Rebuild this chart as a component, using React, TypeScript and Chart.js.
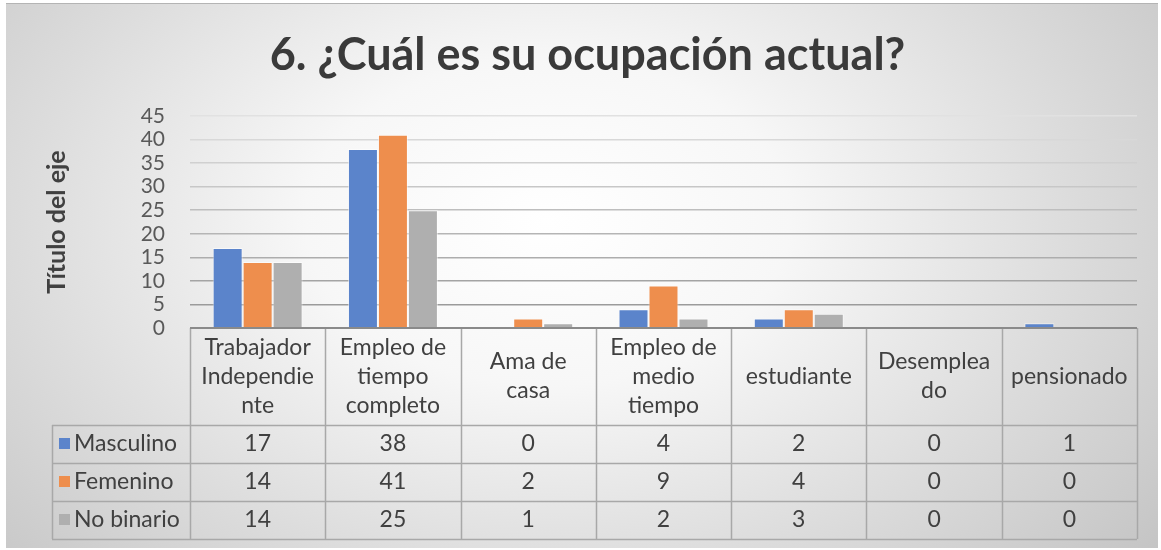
import React, { useEffect, useRef } from "react";
import { Chart, registerables } from "chart.js";

Chart.register(...registerables);

const categories: string[][] = [
  ["Trabajador", "Independie", "nte"],
  ["Empleo de", "tiempo", "completo"],
  ["Ama de", "casa"],
  ["Empleo de", "medio", "tiempo"],
  ["estudiante"],
  ["Desemplea", "do"],
  ["pensionado"],
];
const seriesNames = ["Masculino", "Femenino", "No binario"];
const masculino = [17, 38, 0, 4, 2, 0, 1];
const femenino = [14, 41, 2, 9, 4, 0, 0];
const noBinario = [14, 25, 1, 2, 3, 0, 0];
const seriesColors = ["#5B84CB", "#EE8E4D", "#AFAFAF"];
const titleText = "6. ¿Cuál es su ocupación actual?";
const axisTitle = "Título del eje";
const yMin = 0;
const yMax = 45;
const yStep = 5;

const FONT = "Lato, 'Open Sans', sans-serif";

const tablePlugin = {
  id: "dataTable",
  afterDraw(chart: any) {
    const { ctx, chartArea } = chart;
    const xs = chart.scales.x;
    const n = categories.length;
    const w = (chartArea.right - chartArea.left) / n;
    const top = chartArea.bottom;
    const headerH = 97;
    const rowH = 38;
    const legendLeft = 46;
    const bottom = top + headerH + rowH * 3;
    ctx.save();
    ctx.strokeStyle = "#a8a8a8";
    ctx.lineWidth = 1.5;
    ctx.beginPath();
    for (let k = 0; k <= n; k++) {
      const X = Math.round(chartArea.left + k * w) + 0.5;
      ctx.moveTo(X, top);
      ctx.lineTo(X, bottom);
    }
    for (let r = 0; r <= 3; r++) {
      const Y = Math.round(top + headerH + r * rowH) + 0.5;
      ctx.moveTo(legendLeft, Y);
      ctx.lineTo(chartArea.right, Y);
    }
    ctx.moveTo(legendLeft + 0.5, top + headerH);
    ctx.lineTo(legendLeft + 0.5, bottom);
    ctx.stroke();

    // axis line
    ctx.strokeStyle = "#8a8a8a";
    ctx.lineWidth = 2;
    ctx.beginPath();
    ctx.moveTo(chartArea.left, top);
    ctx.lineTo(chartArea.right, top);
    ctx.stroke();

    ctx.fillStyle = "#404040";
    ctx.font = `23px ${FONT}`;
    ctx.textAlign = "center";
    ctx.textBaseline = "middle";
    const lineH = 29;
    categories.forEach((lines, i) => {
      const cx = xs.getPixelForValue(i);
      const start = top + headerH / 2 - ((lines.length - 1) * lineH) / 2;
      lines.forEach((l, j) => ctx.fillText(l, cx, start + j * lineH));
    });

    chart.data.datasets.forEach((ds: any, r: number) => {
      const cy = top + headerH + r * rowH + rowH / 2;
      ctx.fillStyle = seriesColors[r];
      ctx.fillRect(legendLeft + 7, cy - 6, 11, 11);
      ctx.fillStyle = "#404040";
      ctx.textAlign = "left";
      ctx.fillText(ds.label, legendLeft + 22, cy);
      ctx.textAlign = "center";
      ds.data.forEach((v: number, i: number) => {
        ctx.fillText(String(v), xs.getPixelForValue(i), cy);
      });
    });
    ctx.restore();
  },
};

export default function App() {
  const ref = useRef<HTMLCanvasElement>(null);
  useEffect(() => {
    if (!ref.current) return;
    const values = [masculino, femenino, noBinario];
    const chart = new Chart(ref.current, {
      type: "bar",
      data: {
        labels: categories,
        datasets: values.map((d, i) => ({
          label: seriesNames[i],
          data: d,
          backgroundColor: seriesColors[i],
          borderColor: "rgba(255,255,255,0.55)",
          borderWidth: (c: any) => (c.raw === 0 ? 0 : 1),
          categoryPercentage: 0.665,
          barPercentage: 1,
        })),
      },
      options: {
        responsive: false,
        animation: false,
        layout: { padding: { left: 32, right: 21, top: 0, bottom: 0 } },
        plugins: {
          legend: { display: false },
          tooltip: { enabled: false },
          title: {
            display: true,
            text: titleText,
            color: "#3a3a3a",
            font: { family: FONT, size: 45, weight: "bold" },
            padding: { top: 24, bottom: 34 },
          },
        },
        scales: {
          x: {
            grid: { display: false },
            border: { display: false },
            ticks: { display: false },
            afterFit: (s: any) => {
              s.height = 220;
            },
          },
          y: {
            min: yMin,
            max: yMax,
            ticks: {
              stepSize: yStep,
              autoSkip: false,
              color: "#595959",
              font: { family: FONT, size: 21 },
              padding: 25,
            },
            grid: {
              drawTicks: false,
              lineWidth: 1.5,
              color: (c: any) => {
                const i = c.index;
                if (i === 0) return "rgba(0,0,0,0)";
                const t = (i - 1) / 8;
                const g = Math.round(155 + t * 70);
                return `rgb(${g},${g},${g})`;
              },
            },
            border: { display: false },
            title: {
              display: true,
              text: axisTitle,
              color: "#404040",
              font: { family: FONT, size: 25, weight: "bold" },
              padding: { top: 4, bottom: 0 },
            },
            afterFit: (s: any) => {
              s.width = 152;
            },
          },
        },
      },
      plugins: [tablePlugin],
    } as any);
    return () => chart.destroy();
  }, []);

  return (
    <div
      style={{
        position: "fixed",
        left: 6,
        top: 3,
        width: 1152,
        height: 545,
        borderTop: "1px solid #b4b4b4",
        boxSizing: "border-box",
        background:
          "radial-gradient(ellipse 70% 100% at 47% 40%, #ffffff 0%, #f7f7f7 30%, #dcdcdc 65%, #c2c2c2 100%)",
      }}
    >
      <canvas ref={ref} width={1152} height={544} style={{ display: "block" }} />
    </div>
  );
}
